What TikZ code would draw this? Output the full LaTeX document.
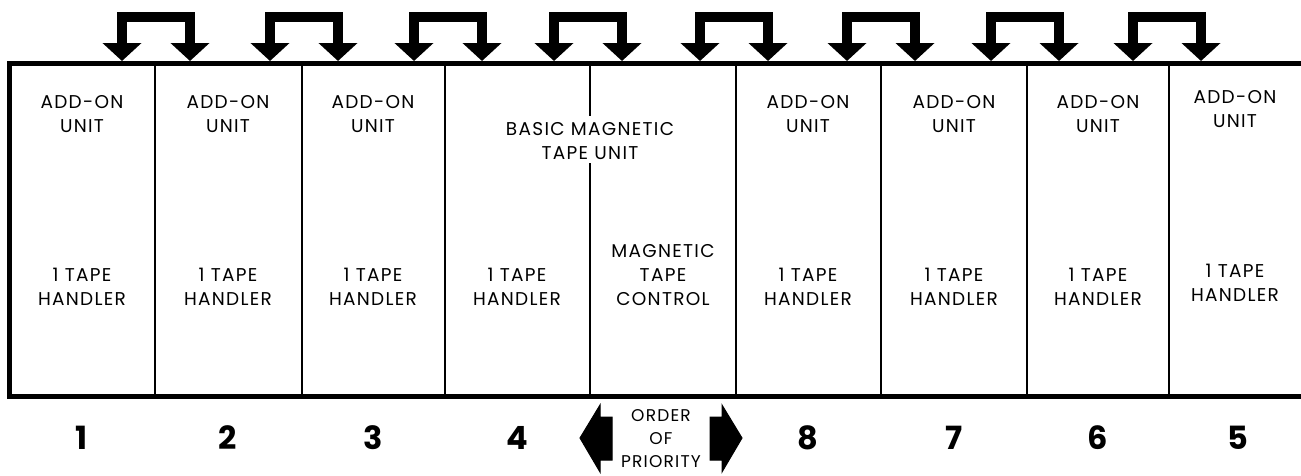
\documentclass[tikz,border=0pt]{standalone}
\usepackage{fontspec}
\setmainfont{Poppins}[LetterSpace=7]
\usetikzlibrary{arrows.meta}
\begin{document}
\begin{tikzpicture}[x=1pt,y=-1pt,
  frame/.style={line width=5pt,line cap=rect},
  divider/.style={line width=2pt},
  label/.style={align=center,font=\fontsize{18.5}{24}\selectfont,inner sep=0pt},
  num/.style={font=\fontsize{32}{32}\selectfont\bfseries,inner sep=0pt},
  bracket/.style={line width=9.5pt,line join=miter,{Triangle[width=38pt,length=18pt]}-{Triangle[width=38pt,length=18pt]}},
  blockarrow/.style={fill=black,draw=black,line width=1pt,line join=miter}]
\useasboundingbox (0,0) rectangle (1301,475);
% frame
\draw[frame] (1301,63) -- (9,63) -- (9,396) -- (1301,396);
% dividers
\foreach \x in {155,302,445,736,881,1027,1169}
  \draw[divider] (\x,63) -- (\x,396);
\draw[divider] (590,63) -- (590,116);
\draw[divider] (590,163) -- (590,396);
% brackets
\foreach \c [count=\i] in {156,304,448,588,734,881,1025,1167} {
  \coordinate (bl\i) at (\c-34,61);
  \coordinate (br\i) at (\c+34,61);
  \draw[bracket] (bl\i) -- ++(0,-44) -| (br\i);
}
% add-on labels
\foreach \x/\n in {82/a1,228/a2,373/a3,808/a8,954/a7,1098/a6}
  \node[label] (\n) at (\x,114) {ADD-ON\\UNIT};
\node[label] (a5) at (1235,109) {ADD-ON\\UNIT};
\node[label] (basic) at (590,141) {BASIC MAGNETIC\\TAPE UNIT};
% handlers
\foreach \x/\n in {82/h1,228/h2,373/h3,517/h4,808/h8,954/h7,1098/h6}
  \node[label] (\n) at (\x,287) {1 TAPE\\HANDLER};
\node[label] (h5) at (1235,283) {1 TAPE\\HANDLER};
\node[label] (mtc) at (663,275) {MAGNETIC\\TAPE\\CONTROL};
% numbers
\foreach \x/\t in {82/1,228/2,373/3,517/4,808/8,954/7,1098/6,1238/5}
  \node[num] (n\t) at (\x,438) {\t};
% order of priority
\node[label,font=\fontsize{17}{23}\selectfont] (order) at (661,439) {ORDER\\OF\\PRIORITY};
\fill[blockarrow] (580,438) -- (600,405) -- (600,417) -- (612,417) -- (612,460) -- (600,460) -- (600,472) -- cycle;
\fill[blockarrow] (742,438) -- (722,405) -- (722,417) -- (710,417) -- (710,460) -- (722,460) -- (722,472) -- cycle;
\end{tikzpicture}
\end{document}
